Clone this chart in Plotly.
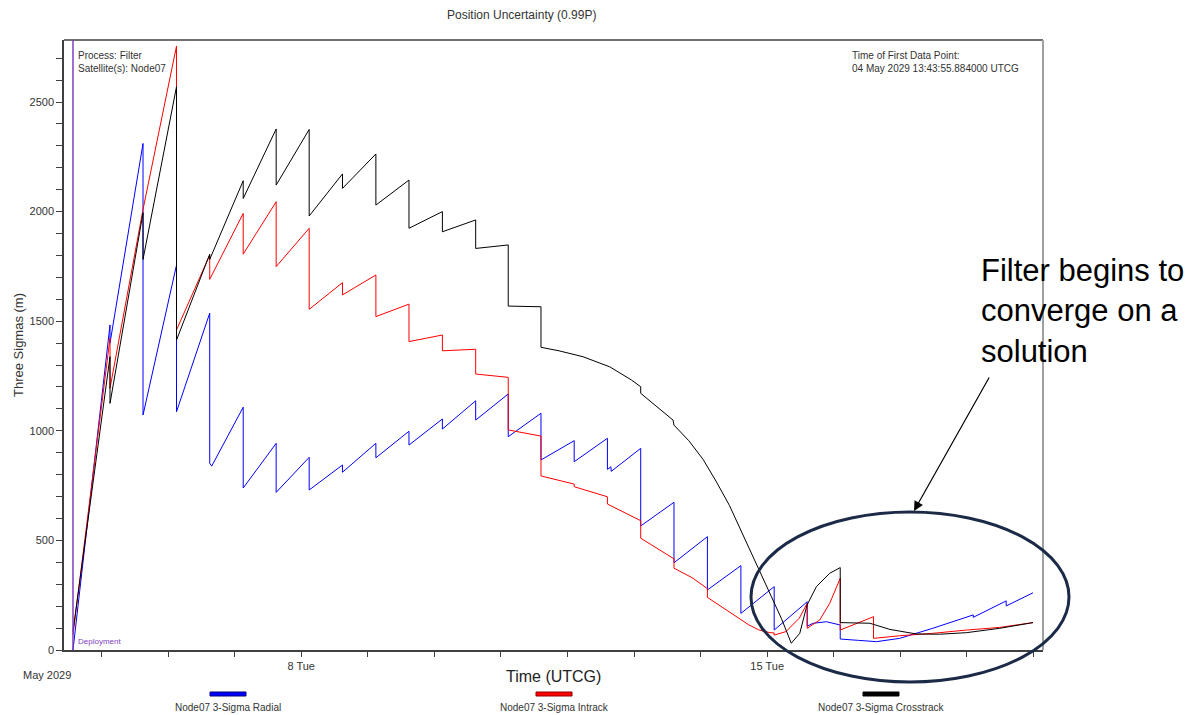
import numpy as np
import pandas as pd
import plotly.graph_objects as go

# ---------------------------------------------------------------------------
# Data: elapsed days since the first data point, and 3-sigma values in metres
# (repeated times mark the instantaneous drops at each filter update)
# ---------------------------------------------------------------------------
first_point = "2029-05-04 13:43:55.884"

radial_days = [0.0, 0.556, 0.556, 1.052, 1.052, 1.555, 1.555, 2.054, 2.054, 2.084,
               2.557, 2.557, 3.052, 3.052, 3.548, 3.548, 4.048, 4.048, 4.550, 4.550,
               5.047, 5.047, 5.549, 5.549, 6.049, 6.049, 6.538, 6.538, 7.030, 7.030,
               7.529, 7.529, 8.028, 8.028, 8.080, 8.085, 8.528, 8.528, 9.028, 9.028,
               9.530, 9.530, 10.033, 10.033, 10.533, 10.533, 11.029, 11.029, 11.120, 11.317,
               11.525, 11.525, 11.800, 12.070, 12.418, 12.914, 13.523, 13.523, 14.018, 14.018,
               14.421]
radial_m = [0, 1483, 1400, 2311, 1072, 1756, 1087, 1537, 852, 839,
            1108, 739, 943, 719, 879, 730, 844, 811, 943, 877,
            998, 935, 1054, 1008, 1137, 1049, 1168, 973, 1080, 867,
            955, 859, 966, 824, 836, 815, 920, 566, 674, 398,
            517, 274, 385, 167, 289, 91, 220, 109, 122, 129,
            114, 50, 44, 38, 53, 99, 160, 149, 224, 201,
            261]

intrack_days = [0.0, 0.556, 0.556, 1.052, 1.555, 1.555, 2.054, 2.054, 2.557, 2.557,
                3.052, 3.052, 3.548, 3.548, 4.048, 4.048, 4.550, 4.550, 5.047, 5.047,
                5.549, 5.549, 6.049, 6.049, 6.538, 6.538, 7.030, 7.030, 7.529, 7.529,
                8.028, 8.028, 8.528, 8.528, 9.028, 9.028, 9.300, 9.530, 9.530, 9.700,
                9.850, 10.000, 10.150, 10.300, 10.470, 10.533, 10.533, 10.710, 10.910, 11.029,
                11.029, 11.217, 11.367, 11.525, 11.525, 12.025, 12.025, 12.418, 12.914, 13.420,
                13.920, 14.421]
intrack_m = [70, 1423, 1194, 2010, 2755, 1460, 1802, 1691, 1992, 1806,
             2045, 1749, 1924, 1554, 1676, 1620, 1711, 1521, 1578, 1407,
             1437, 1365, 1372, 1259, 1244, 1004, 976, 794, 757, 745,
             699, 666, 590, 510, 416, 373, 330, 280, 240, 205,
             175, 145, 115, 92, 79, 78, 68, 84, 145, 213,
             99, 137, 213, 327, 91, 152, 53, 65, 76, 91,
             103, 125]

crosstrack_days = [0.0, 0.556, 0.556, 1.052, 1.052, 1.555, 1.555, 2.054, 2.054, 2.557,
                   2.557, 3.052, 3.052, 3.548, 3.548, 4.048, 4.048, 4.550, 4.550, 5.047,
                   5.047, 5.549, 5.549, 6.049, 6.049, 6.538, 6.538, 7.030, 7.030, 7.300,
                   7.661, 8.062, 8.388, 8.528, 8.528, 9.013, 9.028, 9.250, 9.464, 9.660,
                   9.860, 10.020, 10.180, 10.330, 10.490, 10.640, 10.790, 10.917, 11.026, 11.167,
                   11.367, 11.525, 11.525, 11.970, 12.270, 12.670, 13.015, 13.420, 13.920, 14.421]
crosstrack_m = [85, 1338, 1125, 1995, 1782, 2570, 1414, 1806, 1782, 2141,
                2060, 2377, 2121, 2375, 1980, 2172, 2106, 2263, 2030, 2144,
                1924, 2000, 1908, 1962, 1832, 1848, 1569, 1566, 1381, 1365,
                1338, 1292, 1232, 1201, 1171, 1049, 1026, 955, 870, 770,
                660, 555, 450, 350, 250, 145, 31, 76, 205, 289,
                350, 376, 125, 122, 94, 73, 72, 79, 99, 125]

series_names = ["Node07 3-Sigma Radial", "Node07 3-Sigma Intrack", "Node07 3-Sigma Crosstrack"]
series_colors = ["#0000ff", "#ff0000", "#000000"]

y_tick_values = [0, 500, 1000, 1500, 2000, 2500]
x_tick_labels = {"2029-05-08": "8 Tue", "2029-05-15": "15 Tue"}

# ---------------------------------------------------------------------------
t0 = pd.Timestamp(first_point)


def to_time(days):
    return t0 + pd.to_timedelta(np.asarray(days, dtype=float), unit="D")


# page layout helpers (pixel -> paper coordinates of the plotting area)
W, H = 1194, 715
L, R, T, B = 64, 1043, 40, 650


def px(x):
    return (x - L) / (R - L)


def py(y):
    return (B - y) / (B - T)


FONT = "Liberation Sans, Arial, sans-serif"
TXT = "#333333"
AX = "#404040"

fig = go.Figure()
for days, vals, name, col in zip(
    [radial_days, intrack_days, crosstrack_days],
    [radial_m, intrack_m, crosstrack_m],
    series_names, series_colors,
):
    fig.add_trace(go.Scatter(x=to_time(days), y=vals, mode="lines", name=name,
                             line=dict(color=col, width=1), showlegend=False,
                             hoverinfo="x+y+name"))

day_ticks = pd.date_range("2029-05-05", "2029-05-19", freq="D")
tick_text = [x_tick_labels.get(d.strftime("%Y-%m-%d"), "") for d in day_ticks]

x_start = t0 - pd.to_timedelta(0.135, unit="D")
x_end = t0 + pd.to_timedelta(14.571, unit="D")

fig.update_xaxes(
    type="date", range=[x_start, x_end],
    tickmode="array", tickvals=day_ticks, ticktext=tick_text,
    ticks="outside", ticklen=5, tickwidth=1, tickcolor=AX,
    showline=True, linecolor=AX, linewidth=1.5,
    showgrid=False, zeroline=False,
    tickfont=dict(family=FONT, size=11, color=TXT),
)
fig.update_yaxes(
    range=[0, 2783],
    tickmode="array", tickvals=y_tick_values,
    ticks="outside", ticklen=6, tickwidth=1, tickcolor=AX,
    minor=dict(tick0=0, dtick=100, ticks="outside", ticklen=6, tickcolor=AX, showgrid=False),
    showline=True, linecolor=AX, linewidth=1.5,
    showgrid=False, zeroline=False,
    tickfont=dict(family=FONT, size=11, color=TXT),
)

shapes = [
    # top and right frame of the plotting area
    dict(type="line", xref="paper", yref="paper", x0=0, x1=1, y0=1, y1=1,
         line=dict(color=AX, width=1.5)),
    dict(type="line", xref="paper", yref="paper", x0=1, x1=1, y0=0, y1=1,
         line=dict(color="#a0a0a0", width=2)),
    # deployment marker
    dict(type="line", xref="x", yref="paper", x0=t0, x1=t0, y0=0, y1=1,
         line=dict(color="#7f3fbf", width=1.5)),
    # highlight ellipse around the converging region
    dict(type="circle", xref="paper", yref="paper",
         x0=px(751), x1=px(1069), y0=py(682), y1=py(512),
         line=dict(color="#1b2a47", width=3)),
]

# legend swatches below the axis
legend_centres = [228, 554, 881]
for cx, col in zip(legend_centres, series_colors):
    outline = {"#0000ff": "#00007a", "#ff0000": "#8a0000", "#000000": "#000000"}[col]
    shapes.append(dict(type="rect", xref="paper", yref="paper",
                       x0=px(cx - 18), x1=px(cx + 18), y0=py(696), y1=py(692),
                       fillcolor=col, line=dict(color=outline, width=1)))

annotations = [
    dict(text="Position Uncertainty (0.99P)", x=px(521), y=py(15), xref="paper", yref="paper",
         showarrow=False, xanchor="center", yanchor="middle",
         font=dict(family=FONT, size=12, color=TXT)),
    dict(text="Three Sigmas (m)", x=px(18), y=py(345), xref="paper", yref="paper",
         showarrow=False, textangle=-90, xanchor="center", yanchor="middle",
         font=dict(family=FONT, size=13, color=TXT)),
    dict(text="Time (UTCG)", x=px(553), y=py(677), xref="paper", yref="paper",
         showarrow=False, xanchor="center", yanchor="middle",
         font=dict(family=FONT, size=16, color="#222222")),
    dict(text="May 2029", x=px(47), y=py(675), xref="paper", yref="paper",
         showarrow=False, xanchor="center", yanchor="middle",
         font=dict(family=FONT, size=11, color=TXT)),
    dict(text="Process: Filter<br>Satellite(s): Node07", x=px(76), y=py(48),
         xref="paper", yref="paper", showarrow=False, xanchor="left", yanchor="top",
         align="left", font=dict(family=FONT, size=10, color=TXT)),
    dict(text="Time of First Data Point:<br>04 May 2029 13:43:55.884000 UTCG", x=px(850), y=py(48),
         xref="paper", yref="paper", showarrow=False, xanchor="left", yanchor="top",
         align="left", font=dict(family=FONT, size=10, color=TXT)),
    dict(text="Deployment", x=px(76), y=py(641), xref="paper", yref="paper",
         showarrow=False, xanchor="left", yanchor="middle",
         font=dict(family=FONT, size=8, color="#7f3fbf")),
    dict(text="Filter begins to<br>converge on a<br>solution", x=px(979), y=py(311),
         xref="paper", yref="paper", showarrow=False, xanchor="left", yanchor="middle",
         align="left", font=dict(family=FONT, size=31, color="#000000")),
    # pointer from the note to the ellipse
    dict(text="", x=px(914), y=py(511), xref="paper", yref="paper",
         showarrow=True, ax=76, ay=-135, arrowhead=2, arrowsize=1.6, arrowwidth=1.2,
         arrowcolor="#000000"),
]
for cx, name in zip(legend_centres, series_names):
    annotations.append(dict(text=name, x=px(cx), y=py(707), xref="paper", yref="paper",
                            showarrow=False, xanchor="center", yanchor="middle",
                            font=dict(family=FONT, size=10, color=TXT)))

fig.update_layout(
    width=W, height=H,
    margin=dict(l=L, r=W - R, t=T, b=H - B, autoexpand=False),
    paper_bgcolor="white", plot_bgcolor="white",
    shapes=shapes, annotations=annotations,
    showlegend=False,
)

fig.write_html("out.html")
